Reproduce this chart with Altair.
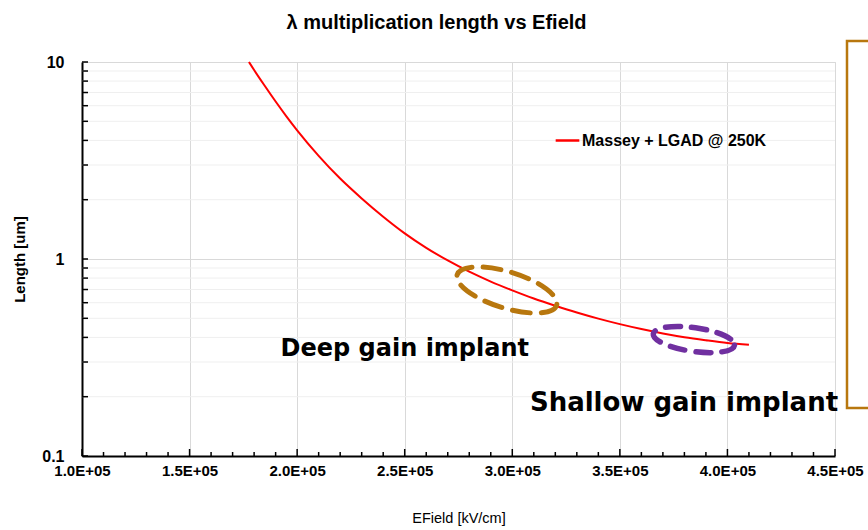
import altair as alt
import pandas as pd

# ---- data ----
efield = [1.776e5, 1.80e5, 1.85e5, 1.90e5, 1.95e5, 2.00e5, 2.10e5, 2.20e5, 2.30e5,
          2.40e5, 2.50e5, 2.60e5, 2.70e5, 2.80e5, 2.90e5, 3.00e5, 3.10e5, 3.20e5,
          3.30e5, 3.40e5, 3.50e5, 3.60e5, 3.70e5, 3.80e5, 3.90e5, 4.00e5, 4.10e5]
length = [10.0, 9.1, 7.55, 6.3, 5.3, 4.5, 3.34, 2.56, 2.03,
          1.64, 1.35, 1.14, 0.983, 0.862, 0.768, 0.693, 0.630, 0.579,
          0.535, 0.498, 0.467, 0.441, 0.419, 0.401, 0.387, 0.375, 0.367]
series_name = "Massey + LGAD @ 250K"

x_major = [1.0e5, 1.5e5, 2.0e5, 2.5e5, 3.0e5, 3.5e5, 4.0e5, 4.5e5]
x_minor = [v * 1e4 for v in range(10, 46) if v % 5 != 0]
y_major = [0.1, 1, 10]
y_minor = [0.2, 0.3, 0.4, 0.5, 0.6, 0.7, 0.8, 0.9, 2, 3, 4, 5, 6, 7, 8, 9]

# annotation anchors (data units)
deep_label = {"E": [1.923e5], "L": [0.321], "t": ["Deep gain implant"]}
shallow_label = {"E": [3.082e5], "L": [0.169], "t": ["Shallow gain implant"]}
deep_ellipse = {"E": [2.975e5], "L": [0.696]}
shallow_ellipse = {"E": [3.844e5], "L": [0.39]}

df = pd.DataFrame({"E": efield, "L": length, "s": [series_name] * len(efield)})

FONT = "Liberation Sans, Arial, sans-serif"
BROWN = "#B8770E"
PURPLE = "#7030A0"

x_scale = alt.Scale(domain=[1.0e5, 4.5e5], nice=False, zero=False)
y_scale = alt.Scale(type="log", domain=[0.1, 10], nice=False)

x_axis = alt.Axis(
    values=x_major, grid=True, gridColor="#d9d9d9", gridWidth=1,
    ticks=False, domain=True, domainColor="black", domainWidth=2,
    labelExpr="format(datum.value / 100000, '.1f') + 'E+05'", labelFlush=False,
    labelFont=FONT, labelFontSize=15, labelFontWeight="bold", labelColor="black",
    labelPadding=7, title="EField [kV/cm]", titleFont=FONT, titleFontSize=14.5,
    titleFontWeight="normal", titleColor="black", titlePadding=33)
y_axis = alt.Axis(
    values=y_major, grid=True, gridColor="#d9d9d9", gridWidth=1,
    ticks=False, domain=True, domainColor="black", domainWidth=2, format="~g",
    labelFont=FONT, labelFontSize=16, labelFontWeight="bold", labelColor="black",
    labelPadding=18, labelFlush=False, title="Length [um]", titleFont=FONT,
    titleFontSize=15, titleFontWeight="bold", titleColor="black", titlePadding=14)

# minor horizontal grid lines
grid_minor = alt.Chart(pd.DataFrame({"v": y_minor})).mark_rule(
    color="#efefef", strokeWidth=1
).encode(y=alt.Y("v:Q", scale=y_scale, axis=y_axis))

main = alt.Chart(df).mark_line(strokeWidth=2, interpolate="monotone", color="#FF0000").encode(
    x=alt.X("E:Q", scale=x_scale, axis=x_axis),
    y=alt.Y("L:Q", scale=y_scale, axis=y_axis),
    stroke=alt.Stroke("s:N", scale=alt.Scale(range=["#FF0000"]), legend=alt.Legend(
        orient="none", legendX=472, legendY=65, title=None, symbolType="stroke",
        symbolSize=560, symbolStrokeWidth=2.5, labelFont=FONT, labelFontSize=16,
        labelFontWeight="bold", labelColor="black", labelOffset=1, labelLimit=0)),
)

# inside tick marks drawn through the scales
y_tick_marks = alt.Chart(pd.DataFrame({"v": y_major + y_minor})).mark_rule(
    color="black", strokeWidth=1.5
).encode(y=alt.Y("v:Q", scale=y_scale, axis=y_axis), x=alt.value(0), x2=alt.value(6))

x_tick_minor = alt.Chart(pd.DataFrame({"v": x_minor})).mark_rule(
    color="black", strokeWidth=1.5
).encode(x=alt.X("v:Q", scale=x_scale, axis=x_axis), y=alt.value(394), y2=alt.value(390))

x_tick_major = alt.Chart(pd.DataFrame({"v": x_major})).mark_rule(
    color="black", strokeWidth=1.5
).encode(x=alt.X("v:Q", scale=x_scale, axis=x_axis), y=alt.value(394), y2=alt.value(387))

ell_deep = alt.Chart(pd.DataFrame(deep_ellipse)).mark_point(
    shape="M1,0C1,0.19 0.55,0.35 0,0.35C-0.55,0.35 -1,0.19 -1,0C-1,-0.19 -0.55,-0.35 0,-0.35C0.55,-0.35 1,-0.19 1,0Z",
    size=10816, angle=17, filled=False, stroke=BROWN, strokeWidth=5,
    strokeDash=[18, 11], strokeCap="round", opacity=1,
).encode(x=alt.X("E:Q", scale=x_scale, axis=x_axis), y=alt.Y("L:Q", scale=y_scale, axis=y_axis))

ell_shallow = alt.Chart(pd.DataFrame(shallow_ellipse)).mark_point(
    shape="M1,0C1,0.16 0.55,0.29 0,0.29C-0.55,0.29 -1,0.16 -1,0C-1,-0.16 -0.55,-0.29 0,-0.29C0.55,-0.29 1,-0.16 1,0Z",
    size=6724, angle=8, filled=False, stroke=PURPLE, strokeWidth=5.5,
    strokeDash=[15, 11], strokeCap="round", opacity=1,
).encode(x=alt.X("E:Q", scale=x_scale, axis=x_axis), y=alt.Y("L:Q", scale=y_scale, axis=y_axis))

txt_deep = alt.Chart(pd.DataFrame(deep_label)).mark_text(
    align="left", baseline="alphabetic", font="DejaVu Sans", fontSize=24,
    fontWeight="bold", color="black",
).encode(x=alt.X("E:Q", scale=x_scale, axis=x_axis), y=alt.Y("L:Q", scale=y_scale, axis=y_axis), text="t:N")

txt_shallow = alt.Chart(pd.DataFrame(shallow_label)).mark_text(
    align="left", baseline="alphabetic", font="DejaVu Sans", fontSize=26,
    fontWeight="bold", color="black",
).encode(x=alt.X("E:Q", scale=x_scale, axis=x_axis), y=alt.Y("L:Q", scale=y_scale, axis=y_axis), text="t:N")

side_box = alt.Chart(pd.DataFrame({"a": [0]})).mark_rect(
    filled=False, stroke=BROWN, strokeWidth=2.5,
).encode(x=alt.value(765), x2=alt.value(830), y=alt.value(-21), y2=alt.value(346))

chart = alt.layer(
    grid_minor, main, y_tick_marks, x_tick_minor, x_tick_major,
    ell_deep, ell_shallow, txt_deep, txt_shallow, side_box,
).properties(
    width=753, height=394,
    autosize=alt.AutoSizeParams(type="none"),
    padding={"left": 82, "top": 62, "right": 33, "bottom": 74},
    title=alt.Title("λ multiplication length vs Efield", font=FONT, fontSize=20,
                    fontWeight="bold", color="black", dx=-22, offset=7),
).configure_view(stroke="#d9d9d9", strokeWidth=1).configure(background="white")

chart.save("out.html", embed_options={"renderer": "svg", "actions": False})
